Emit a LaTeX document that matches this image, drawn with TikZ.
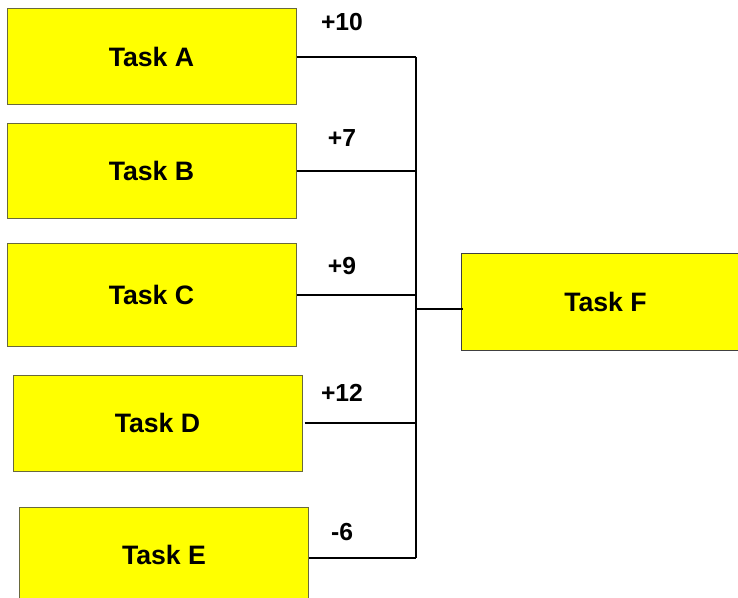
\documentclass[tikz,border=0pt]{standalone}
\usepackage{fontspec}
\setmainfont{Liberation Sans}
\usetikzlibrary{positioning}
\definecolor{taskline}{RGB}{105,105,60}
\definecolor{taskfill}{RGB}{255,255,0}

\begin{document}
\begin{tikzpicture}[
  x=0.75pt, y=-0.75pt,
  task/.style={draw=taskline, fill=taskfill, line width=0.75pt,
               minimum width=216.75pt, minimum height=72pt,
               font=\fontsize{20}{22}\selectfont\bfseries},
  gain/.style={font=\fontsize{18.5}{22}\selectfont\bfseries},
  link/.style={line width=1.5pt}
]
\useasboundingbox (0,0) rectangle (738,598);
\node[task] (A) at (151.5,57) {Task A};
\node[task, minimum height=71.25pt] (B) at (151.5,171) {Task B};
\node[task, minimum height=76.5pt] (C) at (151.5,295) {Task C};
\node[task] (D) at (157.5,423) {Task D};
\node[task] (E) at (164,555) {Task E};
\node[task, draw=black!75] (F) at (605.5,302) {Task F};
\coordinate (bus) at (416,0);
\draw[link] (A.east) -- (A.east -| bus);
\draw[link] (B.east) -- (B.east -| bus);
\draw[link] (C.east) -- (C.east -| bus);
\draw[link] ([xshift=1.5pt]D.east) -- (D.east -| bus);
\draw[link] ([yshift=-2.25pt]E.east) -- ([yshift=-2.25pt]E.east -| bus);
\draw[link] (A.east -| bus) -- ([yshift=-2.25pt]E.east -| bus);
\draw[link] ([yshift=-5.25pt]bus |- F.west) -- ([xshift=2pt,yshift=-5.25pt]F.west);
\node[gain] (gA) at (342,22) {+10};
\node[gain] (gB) at (342,138) {+7};
\node[gain] (gC) at (342,266) {+9};
\node[gain] (gD) at (342,393) {+12};
\node[gain] (gE) at (342,532) {-6};
\end{tikzpicture}
\end{document}
